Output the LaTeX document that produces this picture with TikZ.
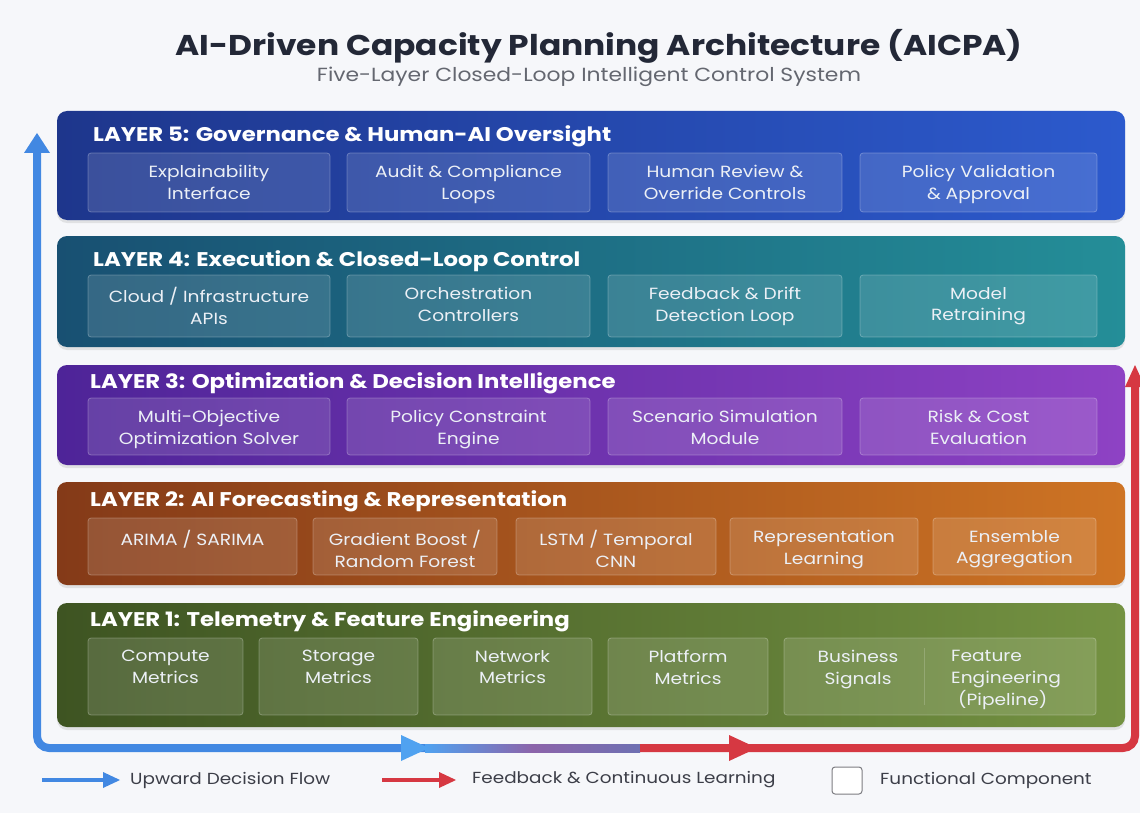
\documentclass[tikz,border=0pt]{standalone}
\usepackage{fontspec}
\setmainfont[FakeStretch=1.15]{Poppins}
\usetikzlibrary{shadows}
\definecolor{bg}{RGB}{246,247,250}
\definecolor{titlecol}{RGB}{35,40,55}
\definecolor{subcol}{RGB}{100,103,112}
\definecolor{boxtext}{RGB}{236,240,246}
\definecolor{lfiveL}{RGB}{30,54,140}\definecolor{lfiveR}{RGB}{44,90,205}
\definecolor{lfourL}{RGB}{24,80,114}\definecolor{lfourR}{RGB}{36,142,152}
\definecolor{lthreeL}{RGB}{78,36,152}\definecolor{lthreeR}{RGB}{142,66,196}
\definecolor{ltwoL}{RGB}{132,58,24}\definecolor{ltwoR}{RGB}{206,116,36}
\definecolor{loneL}{RGB}{62,84,34}\definecolor{loneR}{RGB}{116,146,66}
\definecolor{flowblue}{RGB}{66,136,226}
\definecolor{flowbluelt}{RGB}{80,162,240}
\definecolor{flowred}{RGB}{214,56,66}
\definecolor{flowmid}{RGB}{140,100,170}
\definecolor{legtext}{RGB}{60,62,72}
\tikzset{
  layerbox/.style={rounded corners=10pt, drop shadow={opacity=0.18, shadow xshift=0pt, shadow yshift=-3pt}},
  compbox/.style={rounded corners=3pt, fill=white, fill opacity=0.13, draw=white, draw opacity=0.28, line width=0.8pt},
  comptext/.style={anchor=north, align=center, text=boxtext, font=\fontsize{16.2}{21.8}\selectfont, inner sep=0pt},
  layerhead/.style={anchor=west, text=white, font=\fontsize{19.8}{22}\selectfont\bfseries, inner sep=0pt},
  legendtext/.style={anchor=west, text=legtext, font=\fontsize{16}{18}\selectfont, inner sep=0pt},
}
% a component box with its text set from the top
\newcommand{\comp}[6]{% name, x1, y1, x2, y2, text
  \path[compbox] (#2,#3) rectangle (#4,#5);
  \node[comptext] (#1) at ({(#2+#4)/2},#3+12) {#6};
}
\begin{document}
\begin{tikzpicture}[x=1pt,y=-1pt]
\fill[bg] (0,0) rectangle (1140,813);
\useasboundingbox (0,0) rectangle (1140,813);

% title block
\node[text=titlecol, font=\fontsize{28.6}{32}\selectfont\bfseries] (title) at (599,46) {AI-Driven Capacity Planning Architecture (AICPA)};
\node[text=subcol, font=\fontsize{19}{22}\selectfont] (subtitle) at (589,77) {Five-Layer Closed-Loop Intelligent Control System};

% ---------------- layer 5
\path[layerbox, left color=lfiveL, right color=lfiveR] (57,111) rectangle (1125,220);
\node[layerhead] (h5) at (93,136) {LAYER 5: Governance \& Human-AI Oversight};
\comp{c51}{88}{153}{330}{212}{Explainability\\Interface}
\comp{c52}{347}{153}{590}{212}{Audit \& Compliance\\Loops}
\comp{c53}{608}{153}{842}{212}{Human Review \&\\Override Controls}
\comp{c54}{860}{153}{1097}{212}{Policy Validation\\\& Approval}

% ---------------- layer 4
\path[layerbox, left color=lfourL, right color=lfourR] (57,236) rectangle (1125,347);
\node[layerhead] (h4) at (93,261) {LAYER 4: Execution \& Closed-Loop Control};
\comp{c41}{88}{275}{330}{337}{Cloud / Infrastructure\\APIs}
\comp{c42}{347}{275}{590}{337}{Orchestration\\Controllers}
\comp{c43}{608}{275}{842}{337}{Feedback \& Drift\\Detection Loop}
\comp{c44}{860}{275}{1097}{337}{Model\\Retraining}

% ---------------- layer 3
\path[layerbox, left color=lthreeL, right color=lthreeR] (57,365) rectangle (1125,465);
\node[layerhead] (h3) at (90,383) {LAYER 3: Optimization \& Decision Intelligence};
\comp{c31}{88}{398}{330}{455}{Multi-Objective\\Optimization Solver}
\comp{c32}{347}{398}{590}{455}{Policy Constraint\\Engine}
\comp{c33}{608}{398}{842}{455}{Scenario Simulation\\Module}
\comp{c34}{860}{398}{1097}{455}{Risk \& Cost\\Evaluation}

% ---------------- layer 2
\path[layerbox, left color=ltwoL, right color=ltwoR] (57,482) rectangle (1125,585);
\node[layerhead] (h2) at (90,501) {LAYER 2: AI Forecasting \& Representation};
\comp{c21}{88}{518}{297}{575}{ARIMA / SARIMA}
\comp{c22}{313}{518}{497}{575}{Gradient Boost /\\Random Forest}
\comp{c23}{516}{518}{716}{575}{LSTM / Temporal\\CNN}
\comp{c24}{730}{518}{918}{575}{Representation\\Learning}
\comp{c25}{933}{518}{1096}{575}{Ensemble\\Aggregation}

% ---------------- layer 1
\path[layerbox, left color=loneL, right color=loneR] (57,603) rectangle (1125,727);
\node[layerhead] (h1) at (90,621) {LAYER 1: Telemetry \& Feature Engineering};
\comp{c11}{88}{638}{243}{715}{Compute\\Metrics}
\comp{c12}{259}{638}{418}{715}{Storage\\Metrics}
\comp{c13}{433}{638}{592}{715}{Network\\Metrics}
\comp{c14}{608}{638}{768}{715}{Platform\\Metrics}
\path[compbox] (784,638) rectangle (1096,715);
\draw[white, opacity=0.18, line width=0.8pt] (924,648) -- (924,705);
\node[comptext] (c15) at (858,650) {Business\\Signals};
\node[comptext, anchor=north west, align=left] (c16) at (951,650) {Feature\\Engineering\\\hspace*{7pt}(Pipeline)};

% ---------------- closed loop: upward decision flow and feedback
\coordinate (upTop) at (37,150);
\coordinate (corner) at (37,748);
\coordinate (blueEnd) at (425,748);
\coordinate (redStart) at (640,748);
\coordinate (rightCorner) at (1135,748);
\coordinate (redTop) at (1135,384);
\draw[flowblue, line width=8pt, rounded corners=12pt] (upTop) -- (corner) -- (blueEnd);
\shade[left color=flowbluelt, right color=flowblue!70!flowred, middle color=flowmid] (425,744) rectangle (640,752);
\draw[flowred, line width=8pt, rounded corners=12pt] (redStart) -- (rightCorner) -- (redTop);
% arrow heads on the loop
\fill[flowblue] (37,133) -- (50,153) -- (24,153) -- cycle;
\fill[flowbluelt] (429,748) -- (401,735) -- (401,761) -- cycle;
\fill[flowred] (757,748) -- (729,735) -- (729,761) -- cycle;
\fill[flowred] (1135,365) -- (1145,387) -- (1125,387) -- cycle;

% ---------------- legend
\coordinate (lb1) at (42,780); \coordinate (lb2) at (104,780);
\draw[flowblue, line width=3.5pt] (lb1) -- (lb2);
\fill[flowblue] (120,780) -- (103,772) -- (103,788) -- cycle;
\node[legendtext] (lgBlue) at (130,780) {Upward Decision Flow};
\coordinate (lr1) at (382,780); \coordinate (lr2) at (440,780);
\draw[flowred, line width=3.5pt] (lr1) -- (lr2);
\fill[flowred] (456,780) -- (439,772) -- (439,788) -- cycle;
\node[legendtext] (lgRed) at (472,780) {Feedback \& Continuous Learning};
\draw[rounded corners=3pt, draw={rgb,255:red,125;green,125;blue,130}, fill=white, line width=1pt] (832,767) rectangle (862,794);
\node[legendtext] (lgBox) at (880,780) {Functional Component};
\end{tikzpicture}
\end{document}
